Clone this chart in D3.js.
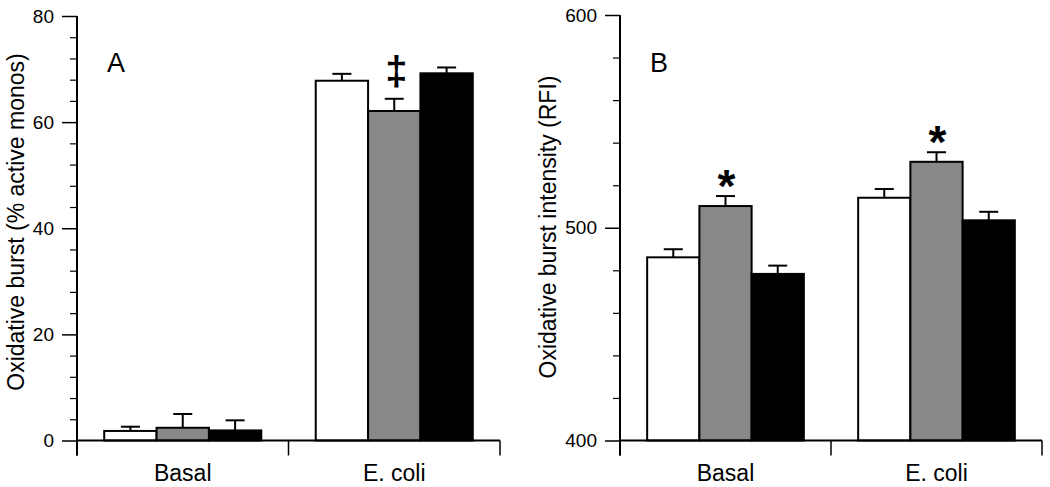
<!DOCTYPE html>
<html>
<head>
<meta charset="utf-8">
<script src="https://cdn.jsdelivr.net/npm/d3@7"></script>
<style>
  html, body { margin: 0; padding: 0; background: #fff; }
  svg { display: block; }
  text { font-family: "Liberation Sans", Arial, sans-serif; fill: #000; }
</style>
</head>
<body>
<svg id="chart" width="1050" height="487"></svg>
<script>
// ---------- data ----------
const categories = ["Basal", "E. coli"];
const seriesNames = ["Control", "Treatment 1", "Treatment 2"];

// Panel A: Oxidative burst (% active monos)
const whiteA = [1.8, 67.8];
const greyA  = [2.4, 62.1];
const blackA = [1.9, 69.2];
const whiteAErr = [0.8, 1.3];
const greyAErr  = [2.6, 2.3];
const blackAErr = [1.9, 1.1];
const ticksA = [0, 20, 40, 60, 80];
const minorTicksA = [4, 8, 12, 16, 24, 28, 32, 36, 44, 48, 52, 56, 64, 68, 72, 76];
const marksA = ["", "\u2021"];          // annotation over the grey bar, per category

// Panel B: Oxidative burst intensity (RFI)
const whiteB = [486.1, 514.1];
const greyB  = [510.2, 531.0];
const blackB = [478.3, 503.5];
const whiteBErr = [3.8, 4.1];
const greyBErr  = [4.7, 4.5];
const blackBErr = [3.9, 4.0];
const ticksB = [400, 500, 600];
const minorTicksB = [420, 440, 460, 480, 520, 540, 560, 580];
const marksB = ["*", "*"];

const fills = ["#ffffff", "#888888", "#000000"];

// ---------- drawing ----------
const svg = d3.select("#chart");

function panel(cfg) {
  const g = svg.append("g");
  const x = d3.scaleBand().domain(categories).range([cfg.left, cfg.right]).paddingInner(0).paddingOuter(0);
  const xs = d3.scaleBand().domain(seriesNames).range([0, x.bandwidth()]).paddingInner(0).paddingOuter(0.52);
  const y = d3.scaleLinear().domain(cfg.domain).range([cfg.bottom, cfg.top]);

  const rows = [];
  cfg.series.forEach((vals, si) => {
    vals.forEach((v, ci) => rows.push({ cat: categories[ci], s: seriesNames[si], si, v, e: cfg.errs[si][ci] }));
  });

  // error bars (upper only)
  const capW = 19;
  const eg = g.append("g").attr("stroke", "#000").attr("stroke-width", 2).attr("fill", "none");
  rows.forEach(d => {
    const cx = x(d.cat) + xs(d.s) + xs.bandwidth() / 2;
    eg.append("line").attr("x1", cx).attr("x2", cx).attr("y1", y(d.v)).attr("y2", y(d.v + d.e));
    eg.append("line").attr("x1", cx - capW / 2).attr("x2", cx + capW / 2).attr("y1", y(d.v + d.e)).attr("y2", y(d.v + d.e));
  });

  // bars
  g.append("g").selectAll("rect").data(rows).join("rect")
    .attr("x", d => x(d.cat) + xs(d.s))
    .attr("width", xs.bandwidth())
    .attr("y", d => y(d.v))
    .attr("height", d => y(cfg.domain[0]) - y(d.v))
    .attr("fill", d => fills[d.si])
    .attr("stroke", "#000")
    .attr("stroke-width", 2);

  // y axis: major ticks
  const yAxis = d3.axisLeft(y).tickValues(cfg.ticks).tickSize(15).tickPadding(8).tickFormat(d3.format("d"));
  const ya = g.append("g").attr("transform", `translate(${cfg.left},0)`).call(yAxis);
  ya.select(".domain").remove();
  ya.selectAll(".tick line").attr("stroke", "#000").attr("stroke-width", 1.5);
  ya.selectAll(".tick text").attr("font-size", 19).attr("font-family", "Liberation Sans, Arial, sans-serif").attr("fill", "#000");

  // y axis: minor ticks
  const yMinor = d3.axisLeft(y).tickValues(cfg.minor).tickSize(7).tickFormat("");
  const ym = g.append("g").attr("transform", `translate(${cfg.left},0)`).call(yMinor);
  ym.select(".domain").remove();
  ym.selectAll(".tick line").attr("stroke", "#000").attr("stroke-width", 1.2);

  // axis lines
  g.append("line").attr("x1", cfg.left).attr("x2", cfg.left)
    .attr("y1", y(cfg.domain[1])).attr("y2", y(cfg.domain[0]) + 15)
    .attr("stroke", "#000").attr("stroke-width", 2);
  g.append("line").attr("x1", cfg.left).attr("x2", cfg.right)
    .attr("y1", y(cfg.domain[0])).attr("y2", y(cfg.domain[0]))
    .attr("stroke", "#000").attr("stroke-width", 2);

  // x ticks at band edges
  const edges = categories.map(c => x(c)).concat([cfg.right]);
  g.append("g").selectAll("line").data(edges).join("line")
    .attr("x1", d => d).attr("x2", d => d)
    .attr("y1", y(cfg.domain[0])).attr("y2", y(cfg.domain[0]) + 15)
    .attr("stroke", "#000").attr("stroke-width", 1.5);

  // category labels
  g.append("g").selectAll("text").data(categories).join("text")
    .attr("x", d => x(d) + x.bandwidth() / 2)
    .attr("y", 480.5)
    .attr("text-anchor", "middle")
    .attr("font-size", 23)
    .text(d => d);

  // y title
  g.append("text")
    .attr("transform", `translate(${cfg.titleX},${cfg.titleY}) rotate(-90)`)
    .attr("text-anchor", "middle")
    .attr("font-size", 23)
    .text(cfg.title);

  // panel letter
  g.append("text").attr("x", cfg.left + 30).attr("y", 72).attr("font-size", 27).text(cfg.letter);

  // significance marks above grey bars
  cfg.marks.forEach((m, ci) => {
    if (!m) return;
    const si = 1;
    const cx = x(categories[ci]) + xs(seriesNames[si]) + xs.bandwidth() / 2;
    const top = y(cfg.series[si][ci] + cfg.errs[si][ci]);
    g.append("text")
      .attr("x", cx + cfg.markDx)
      .attr("y", top + cfg.markDy)
      .attr("text-anchor", "middle")
      .attr("font-size", cfg.markSize)
      .attr("font-family", cfg.markFont)
      .attr("font-weight", cfg.markWeight)
      .text(m);
  });
}

panel({
  left: 77, right: 500, top: 16, bottom: 440.5,
  domain: [0, 80], ticks: ticksA, minor: minorTicksA,
  series: [whiteA, greyA, blackA], errs: [whiteAErr, greyAErr, blackAErr],
  title: "Oxidative burst (% active monos)", titleX: 24, titleY: 222,
  letter: "A", marks: marksA, markSize: 40, markWeight: "bold",
  markFont: "Liberation Sans, Arial, sans-serif", markDx: 2, markDy: -14
});

panel({
  left: 620, right: 1042, top: 15, bottom: 440.5,
  domain: [400, 600], ticks: ticksB, minor: minorTicksB,
  series: [whiteB, greyB, blackB], errs: [whiteBErr, greyBErr, blackBErr],
  title: "Oxidative burst intensity (RFI)", titleX: 556, titleY: 227,
  letter: "B", marks: marksB, markSize: 46, markWeight: "bold",
  markFont: "DejaVu Serif, serif", markDx: 1, markDy: 6
});
</script>
</body>
</html>
